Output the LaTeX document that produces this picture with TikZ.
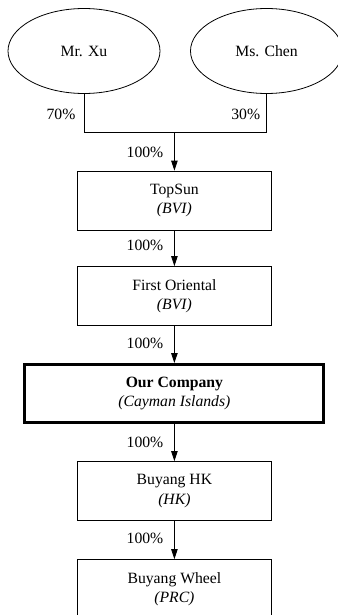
\documentclass[tikz,border=0pt]{standalone}
\usepackage{fontspec}
\setmainfont{Liberation Serif}
\usetikzlibrary{shapes.geometric,arrows.meta}
\begin{document}
\begin{tikzpicture}[x=1pt,y=-1pt,
  every node/.style={font=\fontsize{15.7}{19.5}\selectfont, inner sep=0pt, align=center},
  person/.style={ellipse, draw, line width=0.8pt, minimum width=152pt, minimum height=85pt},
  entity/.style={rectangle, draw, line width=0.8pt, minimum width=194pt, minimum height=59pt},
  mainentity/.style={rectangle, draw, line width=3pt, minimum width=299pt, minimum height=58pt},
  conn/.style={line width=0.8pt},
  arr/.style={line width=0.8pt, -{Triangle[length=10pt,width=6.5pt]}},
  pct/.style={}]
\useasboundingbox (0,0) rectangle (337,615);
\node[person] (xu) at (84,51) {Mr. Xu};
\node[person] (chen) at (266.5,51) {Ms. Chen};
\coordinate (j) at (174.4,132.7);
\node[entity] (topsun) at (174.4,200.5) {TopSun\\\textit{(BVI)}};
\node[entity] (first) at (174.4,296) {First Oriental\\\textit{(BVI)}};
\node[mainentity] (our) at (174.4,393.5) {\textbf{Our Company}\\\textit{(Cayman Islands)}};
\node[entity] (hk) at (174.4,491) {Buyang HK\\\textit{(HK)}};
\node[entity] (wheel) at (174.4,589) {Buyang Wheel\\\textit{(PRC)}};
\draw[conn] (xu.south) |- (j) -| (chen.south);
\draw[arr] (j) -- (topsun.north);
\draw[arr] (topsun.south) -- (first.north);
\draw[arr] (first.south) -- (our.north);
\draw[arr] (our.south) -- (hk.north);
\draw[arr] (hk.south) -- (wheel.north);
\node[pct] (p70) at (61,114) {70\%};
\node[pct] (p30) at (245.7,114) {30\%};
\node[pct] (p1) at (145,152) {100\%};
\node[pct] (p2) at (145,245) {100\%};
\node[pct] (p3) at (145,343) {100\%};
\node[pct] (p4) at (145,442) {100\%};
\node[pct] (p5) at (145,538) {100\%};
\end{tikzpicture}
\end{document}
